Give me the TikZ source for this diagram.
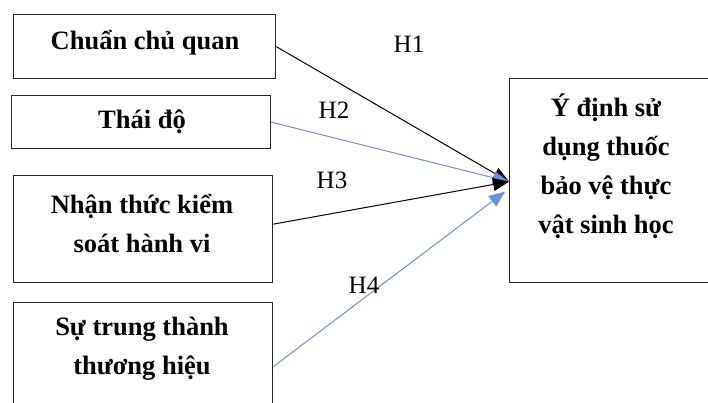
\documentclass[tikz,border=0pt]{standalone}
\usepackage{fontspec}
\setmainfont{Liberation Serif}
\usetikzlibrary{arrows.meta,calc}
\definecolor{lblue}{RGB}{106,146,212}
\begin{document}
\begin{tikzpicture}[x=1pt,y=-1pt,
  box/.style={draw=black!85,line width=1.3pt,rectangle,inner sep=0pt,anchor=north west},
  btext/.style={font=\fontsize{26.5}{39}\selectfont\bfseries,align=center,inner sep=0pt},
  hlab/.style={font=\fontsize{25}{30}\selectfont,inner sep=0pt},
  link/.style={line width=1pt,-{Triangle[length=16pt,width=13pt]}}]
\useasboundingbox (0,0) rectangle (708,403);
\node[box,minimum width=262pt,minimum height=64pt] (b1) at (13,14) {};
\node[box,minimum width=259pt,minimum height=53pt] (b2) at (11,95) {};
\node[box,minimum width=259pt,minimum height=107pt] (b3) at (13,175) {};
\node[box,minimum width=259pt,minimum height=128pt] (b4) at (13,302) {};
\node[box,minimum width=199pt,minimum height=204pt] (r) at (509,78) {};
\node[btext] (t1) at (145,43) {Chuẩn chủ quan};
\node[btext] (t2) at (142,122) {Thái độ};
\node[btext] (t3) at (142,223) {Nhận thức kiểm\\soát hành vi};
\node[btext] (t4) at (142,349) {Sự trung thành\\thương hiệu};
\node[btext] (t5) at (606,166) {Ý định sử\\dụng thuốc\\bảo vệ thực\\vật sinh học};
\coordinate (c3) at ($(b3.east)+(0,-5)$);
\coordinate (tgt) at ($(r.west)+(0,1)$);
\draw[link,black] (b1.east) -- (tgt);
\draw[link,lblue] (b2.east) -- (tgt);
\draw[link,black] (c3) -- (tgt);
\draw[link,lblue] (b4.east) -- ($(tgt)+(-4,10)$);
\node[hlab] (h1) at (409,44) {H1};
\node[hlab] (h2) at (334,110) {H2};
\node[hlab] (h3) at (332,180) {H3};
\node[hlab] (h4) at (364,285) {H4};
\end{tikzpicture}
\end{document}
